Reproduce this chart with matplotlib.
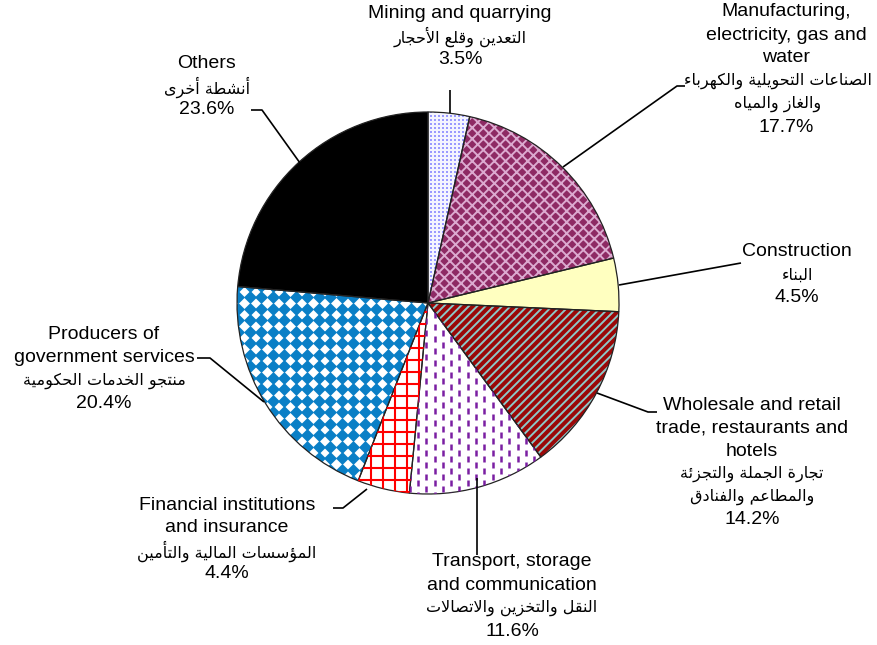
import numpy as np
import matplotlib
matplotlib.use("Agg")
import matplotlib.pyplot as plt
from matplotlib.collections import LineCollection

W, H = 878, 645

sectors = ["Mining and quarrying",
           "Manufacturing,\nelectricity, gas and\nwater",
           "Construction",
           "Wholesale and retail\ntrade, restaurants and\nhotels",
           "Transport, storage\nand communication",
           "Financial institutions\nand insurance",
           "Producers of\ngovernment services",
           "Others"]
sectors_ar = ["التعدين وقلع الأحجار",
              "الصناعات التحويلية والكهرباء\nوالغاز والمياه",
              "البناء",
              "تجارة الجملة والتجزئة\nوالمطاعم والفنادق",
              "النقل والتخزين والاتصالات",
              "المؤسسات المالية والتأمين",
              "منتجو الخدمات الحكومية",
              "أنشطة أخرى"]
shares = [3.5, 17.7, 4.5, 14.2, 11.6, 4.4, 20.4, 23.6]

# --- tiny arabic shaper (presentation forms B, visual order) ---
_seq = [('\u0621', 1), ('\u0622', 2), ('\u0623', 2), ('\u0624', 2), ('\u0625', 2),
        ('\u0626', 4), ('\u0627', 2), ('\u0628', 4), ('\u0629', 2), ('\u062A', 4),
        ('\u062B', 4), ('\u062C', 4), ('\u062D', 4), ('\u062E', 4), ('\u062F', 2),
        ('\u0630', 2), ('\u0631', 2), ('\u0632', 2), ('\u0633', 4), ('\u0634', 4),
        ('\u0635', 4), ('\u0636', 4), ('\u0637', 4), ('\u0638', 4), ('\u0639', 4),
        ('\u063A', 4), ('\u0641', 4), ('\u0642', 4), ('\u0643', 4), ('\u0644', 4),
        ('\u0645', 4), ('\u0646', 4), ('\u0647', 4), ('\u0648', 2), ('\u0649', 2),
        ('\u064A', 4)]
FORMS = {}
code = 0xFE80
for ch, n in _seq:
    FORMS[ch] = [chr(code + i) for i in range(n)]
    code += n
LAM_ALEF = {'\u0622': 0xFEF5, '\u0623': 0xFEF7, '\u0625': 0xFEF9, '\u0627': 0xFEFB}


def shape(text):
    out = []
    prev_joins = False
    i = 0
    while i < len(text):
        c = text[i]
        nxt = text[i + 1] if i + 1 < len(text) else ''
        if c == '\u0644' and nxt in LAM_ALEF:
            out.append(chr(LAM_ALEF[nxt] + (1 if prev_joins else 0)))
            prev_joins = False
            i += 2
            continue
        if c in FORMS:
            f = FORMS[c]
            dual = len(f) == 4
            next_joins = dual and nxt in FORMS
            if len(f) == 1:
                out.append(f[0])
            elif prev_joins and next_joins:
                out.append(f[3])
            elif prev_joins:
                out.append(f[1])
            elif next_joins:
                out.append(f[2])
            else:
                out.append(f[0])
            prev_joins = dual
        else:
            out.append(c)
            prev_joins = False
        i += 1
    return ''.join(reversed(out))


plt.rcParams['hatch.linewidth'] = 1.4

fig = plt.figure(figsize=(W / 100, H / 100), dpi=100)
ax = fig.add_axes([0, 0, 1, 1])

cx, cy, R = 428, H - 303, 191

wedges, _ = ax.pie(shares, startangle=90, counterclock=False, center=(cx, cy),
                   radius=R, colors=['white'] * len(shares),
                   wedgeprops=dict(linewidth=0))

# fills / hatches
fills = ['#f4f4ff', '#8e2a64', '#ffffc0', '#9a0808', 'white', 'white', 'white', 'black']
hatches = [None, 'xxx', None, '////', None, None, None, None]
hatch_cols = [None, '#dcaad0', None, '#8cc8c8', None, None, None, None]
for w, fc, hc, h in zip(wedges, fills, hatch_cols, hatches):
    w.set_facecolor(fc)
    if h:
        w.set_hatch(h)
        w.set_edgecolor(hc)

gx0, gx1 = cx - R - 10, cx + R + 10
gy0, gy1 = cy - R - 10, cy + R + 10

# mining: fine lavender dots
xs, ys = np.meshgrid(np.arange(gx0, gx1, 4.0), np.arange(gy0, gy1, 4.0))
sc = ax.scatter(xs.ravel(), ys.ravel(), s=1.6, marker='s', color='#9a9aff',
                linewidths=0)
sc.set_clip_path(wedges[0])

# transport: staggered purple dashes
segs = []
for k, x in enumerate(np.arange(gx0, gx1, 8.3)):
    off = 6 if k % 2 else 0
    for y in np.arange(gy0 + off, gy1, 12):
        segs.append([(x, y), (x, y + 6)])
lc = LineCollection(segs, colors='#7a1fa2', linewidths=1.8)
ax.add_collection(lc)
lc.set_clip_path(wedges[4])

# financial: red grid
grid = []
for x in np.arange(gx0, gx1, 12):
    grid.append([(x, gy0), (x, gy1)])
for y in np.arange(gy0, gy1, 12):
    grid.append([(gx0, y), (gx1, y)])
gc = LineCollection(grid, colors='#ff0000', linewidths=1.5)
ax.add_collection(gc)
gc.set_clip_path(wedges[5])

# producers: blue diamonds
xs, ys = np.meshgrid(np.arange(gx0, gx1, 11.5), np.arange(gy0, gy1, 11.5))
dm = ax.scatter(xs.ravel(), ys.ravel(), s=44, marker='D', color='#0a7fc6',
                linewidths=0)
dm.set_clip_path(wedges[6])

# outlines
ax.pie(shares, startangle=90, counterclock=False, center=(cx, cy), radius=R,
       wedgeprops=dict(fill=False, edgecolor='#222222', linewidth=0.9))

# labels
label_pos = [(460, 14), (786, 12), (797, 252), (752, 405),
             (512, 562), (227, 505), (104, 335), (207, 64)]
ar_shift = [0, -8, 0, 0, 0, 0, 0, 0]
leaders = [[(450, 90), (450, 113)],
           [(563, 167), (677, 86), (685, 86)],
           [(619, 285), (741, 263)],
           [(597, 393), (648, 412), (657, 412)],
           [(477, 478), (477, 555)],
           [(367, 489), (343, 508), (333, 508)],
           [(264, 402), (210, 358), (197, 358)],
           [(300, 163), (262, 110), (251, 110)]]

step = 23
for name, ar, v, (lx, ly), dx, ld in zip(sectors, sectors_ar, shares, label_pos,
                                         ar_shift, leaders):
    lines = [(t, 'en') for t in name.split('\n')]
    lines += [(t, 'ar') for t in ar.split('\n')]
    lines.append((f"{v}%", 'en'))
    for i, (t, kind) in enumerate(lines):
        y = H - (ly + i * step)
        if kind == 'en':
            ax.text(lx, y, t, ha='center', va='center', fontsize=14,
                    family='Liberation Sans', color='black')
        else:
            ax.text(lx + dx, y, shape(t), ha='center', va='center', fontsize=11.5,
                    family='DejaVu Sans', color='black')
    px = [p[0] for p in ld]
    py = [H - p[1] for p in ld]
    ax.plot(px, py, color='black', linewidth=1.2, solid_capstyle='butt')

ax.set_xlim(0, W)
ax.set_ylim(0, H)
ax.set_aspect('equal')
ax.axis('off')

fig.savefig('out.png', dpi=100, facecolor='white')
